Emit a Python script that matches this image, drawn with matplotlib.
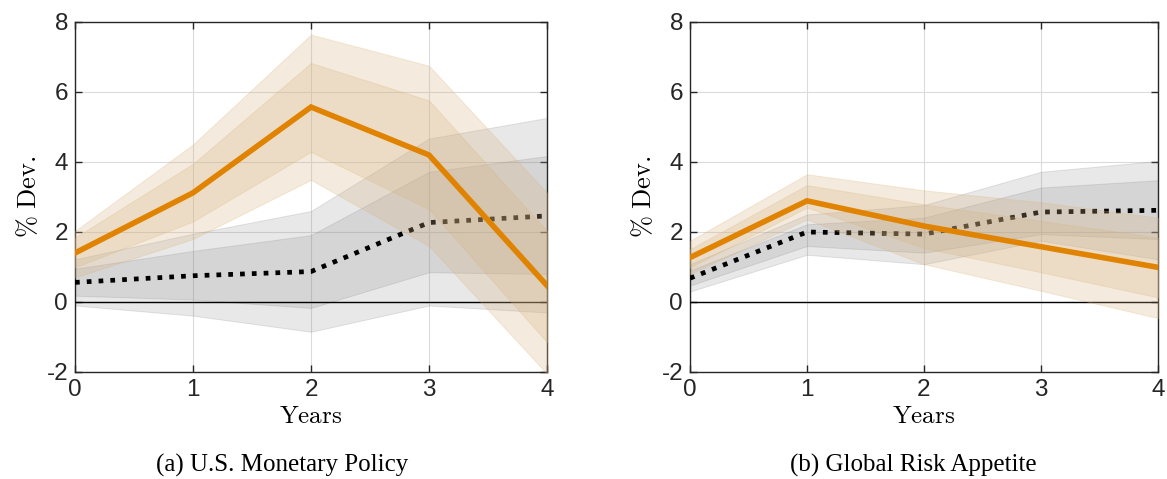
import matplotlib
matplotlib.use("Agg")
import matplotlib.pyplot as plt

# -------------------------------------
#  Data
# -------------------------------------

years = [0, 1, 2, 3, 4]

# (a) U.S. Monetary Policy
a_orange = [1.40, 3.12, 5.57, 4.20, 0.47]
a_orange_hi90 = [2.03, 4.50, 7.64, 6.75, 3.12]
a_orange_lo90 = [0.70, 1.80, 3.49, 1.60, -2.05]
a_orange_hi68 = [1.84, 3.95, 6.83, 5.76, 2.03]
a_orange_lo68 = [0.99, 2.30, 4.29, 2.65, -1.15]

a_grey = [0.56, 0.75, 0.87, 2.27, 2.46]
a_grey_hi90 = [1.22, 1.95, 2.60, 4.67, 5.26]
a_grey_lo90 = [-0.10, -0.39, -0.85, -0.10, -0.30]
a_grey_hi68 = [0.95, 1.46, 1.91, 3.72, 4.17]
a_grey_lo68 = [0.18, 0.07, -0.17, 0.85, 0.80]

# (b) Global Risk Appetite
b_orange = [1.27, 2.89, 2.17, 1.58, 0.99]
b_orange_hi90 = [1.75, 3.65, 3.19, 2.85, 2.41]
b_orange_lo90 = [0.80, 2.36, 1.08, 0.32, -0.46]
b_orange_hi68 = [1.51, 3.34, 2.79, 2.32, 1.84]
b_orange_lo68 = [0.99, 2.70, 1.54, 0.85, 0.13]

b_grey = [0.68, 2.00, 1.94, 2.57, 2.62]
b_grey_hi90 = [1.08, 2.50, 2.77, 3.72, 4.03]
b_grey_lo90 = [0.30, 1.35, 1.08, 1.75, 1.22]
b_grey_hi68 = [0.90, 2.22, 2.41, 3.27, 3.48]
b_grey_lo68 = [0.47, 1.60, 1.41, 1.94, 1.80]

captions = ["(a) U.S. Monetary Policy", "(b) Global Risk Appetite"]

# -------------------------------------
#  Style
# -------------------------------------

plt.rcParams["mathtext.fontset"] = "cm"
plt.rcParams["font.family"] = ["Liberation Sans", "DejaVu Sans"]
plt.rcParams["axes.unicode_minus"] = False

ORANGE = "#E08300"
ORANGE_FILL = (0.84, 0.70, 0.50)
GREY_FILL = (0.5, 0.5, 0.5)


def draw_panel(ax, orange, o_bands, grey, g_bands):
    # grey bands + dotted line first, orange on top
    for lo, hi in g_bands:
        ax.fill_between(years, lo, hi, facecolor=GREY_FILL, alpha=0.18,
                        edgecolor=(0.45, 0.45, 0.45), linewidth=0.7, zorder=2)
    ax.plot(years, grey, color="black", linestyle=(0, (1, 1.5)),
            linewidth=3.4, dash_capstyle="butt", zorder=3)
    for lo, hi in o_bands:
        ax.fill_between(years, lo, hi, facecolor=ORANGE_FILL, alpha=0.26,
                        edgecolor=(0.86, 0.70, 0.45), linewidth=0.7, zorder=4)
    ax.plot(years, orange, color=ORANGE, linewidth=4.0, zorder=5,
            solid_joinstyle="miter")
    ax.axhline(0, color="black", linewidth=1.0, zorder=3)

    ax.set_xlim(0, 4)
    ax.set_ylim(-2, 8)
    ax.set_xticks(years)
    ax.set_yticks([-2, 0, 2, 4, 6, 8])
    ax.grid(True, color=(0.86, 0.86, 0.86), linewidth=0.8, zorder=0)
    ax.set_axisbelow(True)
    ax.tick_params(direction="in", length=5, width=1, labelsize=17.5,
                   top=True, right=True, colors="#262626", pad=5)
    for s in ax.spines.values():
        s.set_color("#262626")
        s.set_linewidth(1.0)
    ax.set_xlabel(r"$\mathrm{Years}$", fontsize=18, labelpad=2)
    ax.set_ylabel(r"$\%\ \mathrm{Dev.}$", fontsize=19, labelpad=4)


def main():
    fig = plt.figure(figsize=(11.67, 4.79), dpi=100)
    ax1 = fig.add_axes([75 / 1167, 107 / 479, 472 / 1167, 350 / 479])
    ax2 = fig.add_axes([690 / 1167, 107 / 479, 468 / 1167, 350 / 479])

    draw_panel(ax1, a_orange,
               [(a_orange_lo90, a_orange_hi90), (a_orange_lo68, a_orange_hi68)],
               a_grey,
               [(a_grey_lo90, a_grey_hi90), (a_grey_lo68, a_grey_hi68)])
    draw_panel(ax2, b_orange,
               [(b_orange_lo90, b_orange_hi90), (b_orange_lo68, b_orange_hi68)],
               b_grey,
               [(b_grey_lo90, b_grey_hi90), (b_grey_lo68, b_grey_hi68)])

    fig.text(282 / 1167, 1 - 465 / 479, captions[0], ha="center", va="center",
             fontsize=18, family=["Liberation Serif", "DejaVu Serif"])
    fig.text(913 / 1167, 1 - 465 / 479, captions[1], ha="center", va="center",
             fontsize=18, family=["Liberation Serif", "DejaVu Serif"])

    fig.savefig("out.png", dpi=100)
    plt.close(fig)


if __name__ == "__main__":
    main()
